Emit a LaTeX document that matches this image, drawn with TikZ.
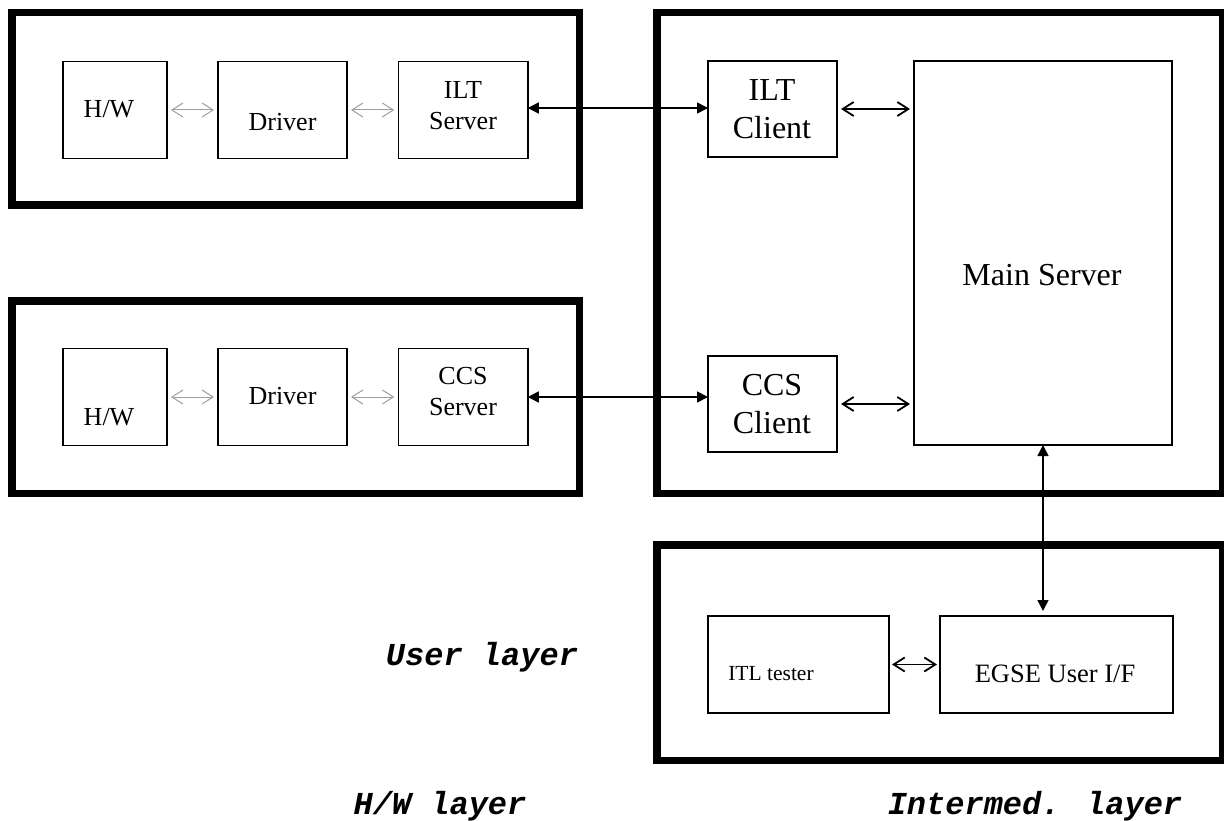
\documentclass[tikz,border=0pt]{standalone}
\usepackage{fontspec}
\setmainfont{Liberation Serif}
\newfontfamily\layerfont{Liberation Mono}
\usetikzlibrary{arrows.meta}
\tikzset{
  frame/.style={draw, line width=7.5pt, inner sep=0pt, outer sep=0pt},
  box/.style={draw, line width=1.5pt, inner sep=0pt, outer sep=0pt},
  txtA/.style={font=\fontsize{26}{31}\selectfont, align=center, inner sep=0pt},
  txtC/.style={font=\fontsize{32}{38}\selectfont, align=center, inner sep=0pt},
  txtS/.style={font=\fontsize{21.5}{26}\selectfont, inner sep=0pt},
  txtE/.style={font=\fontsize{26.5}{32}\selectfont, inner sep=0pt},
  layer/.style={font=\layerfont\bfseries\itshape\fontsize{32}{38}\selectfont, inner sep=0pt, anchor=base},
  lightarrow/.style={draw=gray!75, line width=1pt,
    {Straight Barb[length=11pt,width=14pt]}-{Straight Barb[length=11pt,width=14pt]},
    shorten <=4pt, shorten >=4pt},
  openarrow/.style={draw=black, line width=1.8pt,
    {Straight Barb[length=11pt,width=14pt]}-{Straight Barb[length=11pt,width=14pt]},
    shorten <=4pt, shorten >=4pt},
  solidarrow/.style={draw=black, line width=1.6pt,
    {Triangle[length=11pt,width=11pt]}-{Triangle[length=11pt,width=11pt]}}
}
\begin{document}
\begin{tikzpicture}[x=1pt,y=-1pt]
\useasboundingbox (0,0) rectangle (1224,821);
\fill[white] (0,0) rectangle (1224,821);

% containers
\node[frame, minimum width=567.5pt, minimum height=192.5pt] (frA) at (295.5,109) {};
\node[frame, minimum width=567.5pt, minimum height=192.5pt] (frB) at (295.5,397) {};
\node[frame, minimum width=566pt, minimum height=480.5pt] (frR) at (939.75,253) {};
\node[frame, minimum width=566pt, minimum height=215.5pt] (frU) at (939.75,652.5) {};

% H/W layer boxes (top)
\node[box, minimum width=104pt, minimum height=97pt] (hwA) at (115,110) {};
\node[box, minimum width=129pt, minimum height=97pt] (drvA) at (282.5,110) {};
\node[box, minimum width=129.5pt, minimum height=97pt] (iltS) at (463,110) {};
\node[txtA] (hwAt) at (109,109) {H/W};
\node[txtA] (drvAt) at (282.5,122) {Driver};
\node[txtA] (iltSt) at (463,105.5) {ILT\\Server};

% H/W layer boxes (bottom)
\node[box, minimum width=104pt, minimum height=97pt] (hwB) at (115,397) {};
\node[box, minimum width=129pt, minimum height=97pt] (drvB) at (282.5,397) {};
\node[box, minimum width=129.5pt, minimum height=97pt] (ccsS) at (463,397) {};
\node[txtA] (hwBt) at (109,417) {H/W};
\node[txtA] (drvBt) at (282.5,396) {Driver};
\node[txtA] (ccsSt) at (463,392) {CCS\\Server};

% intermediate layer
\node[box, minimum width=129pt, minimum height=96pt] (iltC) at (772.5,109) {};
\node[box, minimum width=129pt, minimum height=96pt] (ccsC) at (772.5,404) {};
\node[box, minimum width=258pt, minimum height=384pt] (main) at (1043,253) {};
\node[txtC] (iltCt) at (772,109) {ILT\\Client};
\node[txtC] (ccsCt) at (772,404) {CCS\\Client};
\node[txtC] (maint) at (1042,275) {Main Server};

% user layer
\node[box, minimum width=181pt, minimum height=97pt] (itl) at (798.5,664.5) {};
\node[box, minimum width=233pt, minimum height=97pt] (egse) at (1056.5,664.5) {};
\node[txtS] (itlt) at (771,674) {ITL tester};
\node[txtE] (egset) at (1055,674) {EGSE User I/F};

% layer labels
\node[layer] (luser) at (482,665) {User layer};
\node[layer] (lhw) at (440,814) {H/W layer};
\node[layer] (lint) at (1035,814) {Intermed. layer};

% connectors
\draw[lightarrow] (hwA.east |- 0,110) -- (drvA.west |- 0,110);
\draw[lightarrow] (drvA.east |- 0,110) -- (iltS.west |- 0,110);
\draw[lightarrow] (hwB.east |- 0,397) -- (drvB.west |- 0,397);
\draw[lightarrow] (drvB.east |- 0,397) -- (ccsS.west |- 0,397);

\draw[solidarrow] (iltS.east |- 0,108) -- (iltC.west |- 0,108);
\draw[solidarrow] (ccsS.east) -- (ccsS.east -| ccsC.west);

\draw[openarrow] (iltC.east) -- (iltC.east -| main.west);
\draw[openarrow] (ccsC.east) -- (ccsC.east -| main.west);

\draw[solidarrow, line width=1.4pt, shorten >=5pt] (main.south) -- (main.south |- egse.north);

\draw[openarrow, shorten <=3pt, shorten >=3pt] (itl.east) -- (egse.west);
\end{tikzpicture}
\end{document}
